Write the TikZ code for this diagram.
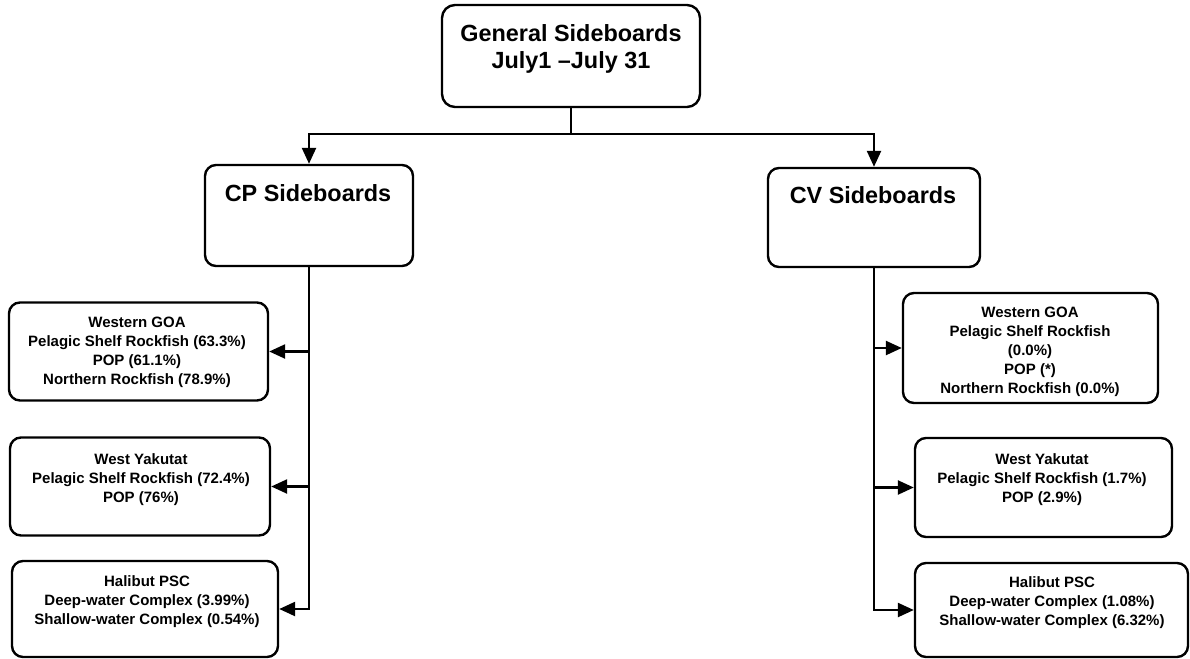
\documentclass[tikz,border=0pt]{standalone}
\usepackage{fontspec}
\setmainfont{Liberation Sans}
\usetikzlibrary{arrows.meta}

\begin{document}
\begin{tikzpicture}[x=1pt, y=-1pt, line width=2.4pt,
  box/.style={draw, rectangle, rounded corners=11pt, inner sep=0pt},
  big/.style={font=\fontsize{23.4}{27}\selectfont\bfseries, align=center, inner sep=0pt},
  small/.style={font=\fontsize{15}{19}\selectfont\bfseries, align=center, inner sep=0pt},
  arr/.style={-{Triangle[length=16pt, width=14pt]}}]

\useasboundingbox (0,0) rectangle (1190,658);
\clip (0,0) rectangle (1190,658);

% top box
\node[box, rounded corners=13pt, minimum width=258pt, minimum height=102pt] (gen) at (571,56) {};
\node[big] (gen-t) at (571,49) {General Sideboards\\July1 --July 31};

% second level
\node[box, minimum width=208pt, minimum height=101pt] (cp) at (309,215.5) {};
\node[big] (cp-t) at (308,193) {CP Sideboards};
\node[box, minimum width=212pt, minimum height=99pt] (cv) at (874,217.5) {};
\node[big] (cv-t) at (873,195) {CV Sideboards};

% CP branch boxes
\node[box, minimum width=259pt, minimum height=98pt] (cpw) at (138.5,351.5) {};
\node[small] (cpw-t) at (137,352) {Western GOA\\Pelagic Shelf Rockfish (63.3\%)\\POP (61.1\%)\\Northern Rockfish (78.9\%)};

\node[box, minimum width=260pt, minimum height=98pt] (cpy) at (140,486.5) {};
\node[small] (cpy-t) at (141,480) {West Yakutat\\Pelagic Shelf Rockfish (72.4\%)\\POP (76\%)};

\node[box, minimum width=266pt, minimum height=96pt] (cph) at (145,609) {};
\node[small] (cph-t) at (147,602) {Halibut PSC\\Deep-water Complex (3.99\%)\\Shallow-water Complex (0.54\%)};

% CV branch boxes
\node[box, minimum width=255pt, minimum height=110pt] (cvw) at (1030.5,348) {};
\node[small] (cvw-t) at (1030,352) {Western GOA\\Pelagic Shelf Rockfish\\(0.0\%)\\POP (*)\\Northern Rockfish (0.0\%)};

\node[box, minimum width=257pt, minimum height=99pt] (cvy) at (1043.5,487.5) {};
\node[small] (cvy-t) at (1042,480) {West Yakutat\\Pelagic Shelf Rockfish (1.7\%)\\POP (2.9\%)};

\node[box, minimum width=273pt, minimum height=94pt] (cvh) at (1051.5,610) {};
\node[small] (cvh-t) at (1052,603) {Halibut PSC\\Deep-water Complex (1.08\%)\\Shallow-water Complex (6.32\%)};

% connectors from the top box
\coordinate (split) at (571,134);
\draw[arr] (gen.south) -- (split) -| (cp.north);
\draw[arr] (split) -| (cv.north);

% CP trunk
\draw[arr] (cp.south) |- (cph.east);
\draw[arr] (cp.south |- cpw.east) -- (cpw.east);
\draw[arr] (cp.south |- cpy.east) -- (cpy.east);

% CV trunk
\draw[arr] (cv.south) |- (cvh.west);
\draw[arr] (cv.south |- cvw.west) -- (cvw.west);
\draw[arr] (cv.south |- cvy.west) -- (cvy.west);
\end{tikzpicture}
\end{document}
